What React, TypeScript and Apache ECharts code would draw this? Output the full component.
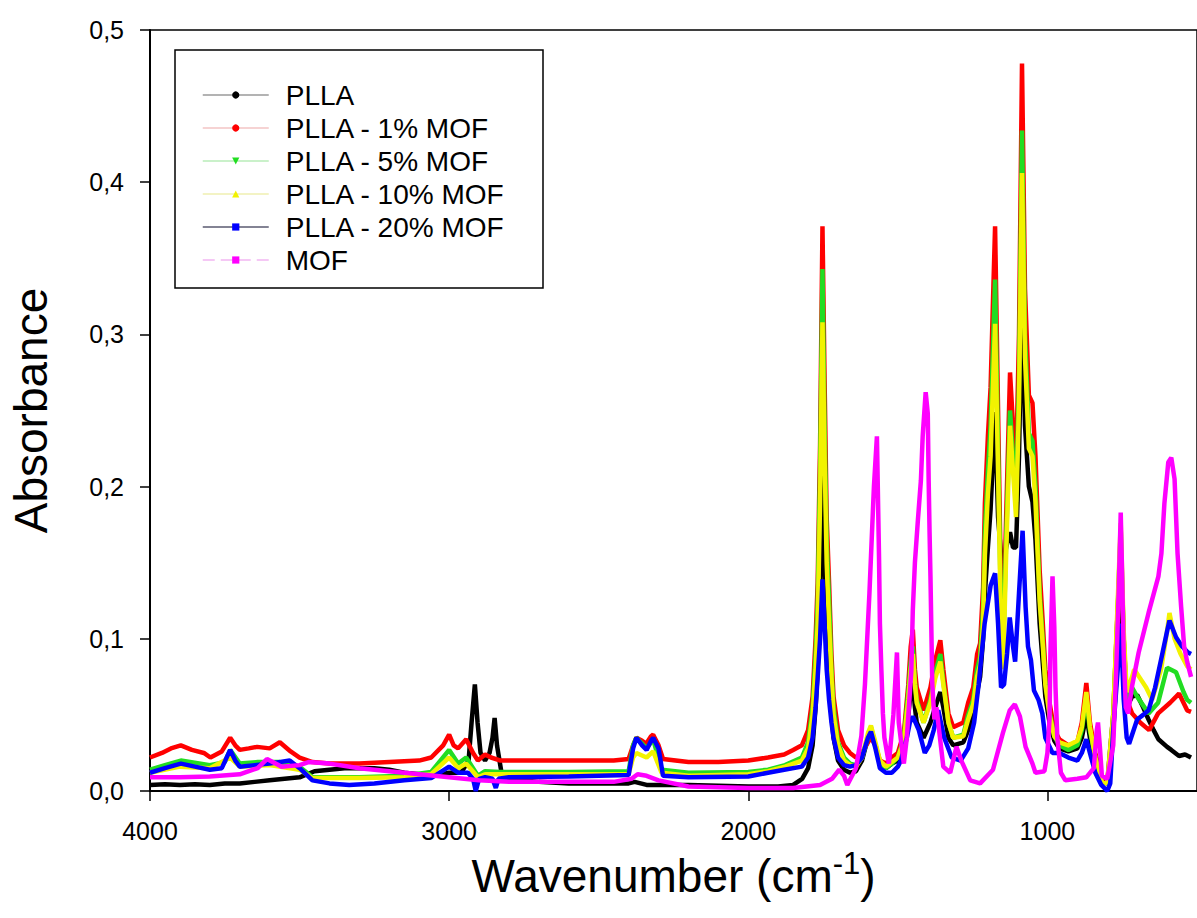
import React, { useEffect, useRef } from "react";
import * as echarts from "echarts";

const FONT = "'Liberation Sans', Arial, sans-serif";

const seriesNames = ["PLLA", "PLLA - 1% MOF", "PLLA - 5% MOF", "PLLA - 10% MOF", "PLLA - 20% MOF", "MOF"];
const seriesColors = ["#000000", "#ff0000", "#22dd22", "#f2f200", "#0000ff", "#ff00ff"];
const legendLineColors = ["#9a9a9a", "#f3c4c4", "#b8ecb8", "#efefb0", "#5a5a70", "#f2b6f2"];
const seriesSymbols = ["circle", "circle", "triangle", "triangle", "rect", "rect"];
const seriesSymbolRotate = [0, 0, 180, 0, 0, 0];
const xTickValues = [4000, 3000, 2000, 1000];

const pllaData: [number, number][] = [
  [4000, 0.004], [3950, 0.0045], [3900, 0.004], [3850, 0.0045], [3800, 0.004], [3750, 0.005], [3700, 0.005],
  [3650, 0.006], [3600, 0.007], [3550, 0.008], [3500, 0.009], [3450, 0.013], [3400, 0.014], [3350, 0.015],
  [3300, 0.015], [3250, 0.015], [3200, 0.014], [3150, 0.012], [3100, 0.011], [3050, 0.01], [3000, 0.012],
  [2960, 0.012], [2935, 0.02], [2925, 0.045], [2914, 0.07], [2905, 0.045], [2895, 0.025], [2880, 0.02],
  [2865, 0.025], [2855, 0.035], [2848, 0.048], [2840, 0.03], [2825, 0.012], [2800, 0.008], [2700, 0.006],
  [2600, 0.005], [2500, 0.005], [2400, 0.005], [2380, 0.006], [2360, 0.005], [2340, 0.004], [2300, 0.004],
  [2200, 0.004], [2000, 0.003], [1900, 0.003], [1850, 0.004], [1820, 0.008], [1800, 0.015], [1785, 0.03],
  [1775, 0.055], [1768, 0.08], [1760, 0.13], [1752, 0.208], [1745, 0.15], [1738, 0.1], [1730, 0.075],
  [1722, 0.05], [1715, 0.035], [1700, 0.02], [1680, 0.014], [1660, 0.012], [1640, 0.013], [1620, 0.02],
  [1600, 0.035], [1590, 0.041], [1575, 0.03], [1560, 0.018], [1540, 0.015], [1520, 0.018], [1500, 0.02],
  [1480, 0.03], [1465, 0.05], [1457, 0.065], [1450, 0.071], [1443, 0.055], [1437, 0.045], [1414, 0.035],
  [1391, 0.045], [1375, 0.055], [1358, 0.065], [1348, 0.055], [1331, 0.035], [1315, 0.03], [1281, 0.032],
  [1265, 0.04], [1248, 0.05], [1235, 0.065], [1225, 0.075], [1215, 0.1], [1209, 0.13], [1199, 0.16],
  [1190, 0.185], [1175, 0.249], [1165, 0.18], [1155, 0.155], [1148, 0.15], [1138, 0.16], [1125, 0.17],
  [1115, 0.16], [1105, 0.16], [1095, 0.22], [1085, 0.329], [1075, 0.24], [1062, 0.2], [1050, 0.19],
  [1040, 0.165], [1026, 0.11], [1016, 0.085], [1007, 0.062], [993, 0.045], [977, 0.033], [960, 0.028],
  [930, 0.026], [900, 0.028], [885, 0.035], [870, 0.05], [858, 0.035], [840, 0.02], [818, 0.006],
  [800, 0.005], [780, 0.04], [765, 0.09], [755, 0.125], [745, 0.08], [735, 0.055], [717, 0.062],
  [700, 0.063], [680, 0.055], [662, 0.047], [645, 0.04], [629, 0.034], [600, 0.029], [586, 0.027],
  [560, 0.023], [540, 0.024], [520, 0.022],
];

const mof1Data: [number, number][] = [
  [4000, 0.022], [3960, 0.025], [3930, 0.028], [3897, 0.03], [3860, 0.027], [3820, 0.025], [3798, 0.022],
  [3760, 0.026], [3732, 0.035], [3715, 0.03], [3700, 0.027], [3670, 0.028], [3642, 0.029], [3600, 0.028],
  [3566, 0.032], [3530, 0.026], [3500, 0.022], [3457, 0.019], [3400, 0.018], [3300, 0.018], [3200, 0.019],
  [3100, 0.02], [3060, 0.022], [3020, 0.03], [3000, 0.037], [2985, 0.03], [2970, 0.028], [2943, 0.034],
  [2920, 0.025], [2904, 0.02], [2880, 0.024], [2860, 0.022], [2828, 0.02], [2700, 0.02], [2600, 0.02],
  [2450, 0.02], [2400, 0.021], [2385, 0.03], [2374, 0.035], [2355, 0.033], [2341, 0.031], [2325, 0.036],
  [2318, 0.037], [2300, 0.03], [2285, 0.021], [2200, 0.019], [2100, 0.019], [2000, 0.02], [1934, 0.022],
  [1880, 0.024], [1850, 0.027], [1821, 0.03], [1800, 0.04], [1785, 0.062], [1775, 0.1], [1768, 0.137],
  [1760, 0.227], [1752, 0.371], [1745, 0.27], [1738, 0.18], [1730, 0.137], [1722, 0.09], [1715, 0.062],
  [1700, 0.04], [1680, 0.03], [1660, 0.025], [1640, 0.022], [1620, 0.025], [1600, 0.032], [1590, 0.035],
  [1575, 0.03], [1560, 0.02], [1540, 0.018], [1520, 0.022], [1500, 0.025], [1480, 0.038], [1465, 0.07],
  [1457, 0.095], [1450, 0.106], [1443, 0.08], [1437, 0.068], [1414, 0.053], [1391, 0.068], [1375, 0.086],
  [1358, 0.099], [1348, 0.08], [1331, 0.051], [1315, 0.042], [1281, 0.045], [1265, 0.058], [1248, 0.068],
  [1235, 0.09], [1225, 0.097], [1215, 0.134], [1209, 0.189], [1199, 0.233], [1190, 0.265], [1175, 0.371],
  [1165, 0.25], [1155, 0.13], [1148, 0.1], [1138, 0.18], [1125, 0.275], [1115, 0.24], [1105, 0.21],
  [1095, 0.3], [1085, 0.478], [1075, 0.33], [1062, 0.26], [1050, 0.255], [1040, 0.22], [1026, 0.145],
  [1016, 0.112], [1007, 0.08], [993, 0.058], [977, 0.04], [960, 0.034], [930, 0.03], [900, 0.032],
  [885, 0.045], [870, 0.071], [858, 0.045], [840, 0.025], [818, 0.008], [800, 0.006], [780, 0.05],
  [765, 0.12], [755, 0.16], [745, 0.1], [735, 0.06], [717, 0.051], [690, 0.045], [660, 0.04],
  [630, 0.051], [590, 0.058], [560, 0.064], [533, 0.053], [520, 0.052],
];

const mof5Data: [number, number][] = [
  [4000, 0.014], [3950, 0.017], [3897, 0.02], [3800, 0.017], [3750, 0.019], [3732, 0.027], [3700, 0.018],
  [3640, 0.019], [3566, 0.019], [3500, 0.016], [3457, 0.009], [3300, 0.009], [3150, 0.01], [3060, 0.0125],
  [3000, 0.027], [2970, 0.018], [2943, 0.022], [2904, 0.01], [2880, 0.013], [2830, 0.0125], [2600, 0.0125],
  [2400, 0.013], [2385, 0.03], [2374, 0.035], [2340, 0.028], [2318, 0.034], [2290, 0.014], [2200, 0.012],
  [2000, 0.0125], [1934, 0.014], [1877, 0.017], [1821, 0.022], [1800, 0.032], [1785, 0.055], [1775, 0.09],
  [1768, 0.125], [1760, 0.21], [1752, 0.343], [1745, 0.24], [1738, 0.165], [1730, 0.125], [1722, 0.08],
  [1715, 0.055], [1700, 0.032], [1680, 0.022], [1660, 0.018], [1640, 0.017], [1620, 0.022], [1600, 0.035],
  [1590, 0.042], [1575, 0.03], [1560, 0.018], [1540, 0.015], [1520, 0.018], [1500, 0.022], [1480, 0.035],
  [1465, 0.065], [1457, 0.085], [1450, 0.095], [1443, 0.072], [1437, 0.06], [1414, 0.045], [1391, 0.06],
  [1375, 0.078], [1358, 0.09], [1348, 0.072], [1331, 0.045], [1315, 0.035], [1281, 0.037], [1265, 0.05],
  [1248, 0.06], [1235, 0.08], [1225, 0.088], [1215, 0.12], [1209, 0.17], [1199, 0.21], [1190, 0.24],
  [1175, 0.336], [1165, 0.225], [1155, 0.115], [1148, 0.09], [1138, 0.165], [1125, 0.25], [1115, 0.22],
  [1105, 0.19], [1095, 0.27], [1085, 0.434], [1075, 0.3], [1062, 0.235], [1050, 0.23], [1040, 0.2],
  [1026, 0.13], [1016, 0.1], [1007, 0.072], [993, 0.052], [977, 0.036], [960, 0.03], [930, 0.027],
  [900, 0.03], [885, 0.04], [870, 0.062], [858, 0.04], [840, 0.022], [818, 0.006], [800, 0.005],
  [780, 0.05], [765, 0.12], [755, 0.172], [745, 0.1], [735, 0.06], [717, 0.068], [700, 0.062],
  [662, 0.051], [630, 0.058], [600, 0.081], [570, 0.078], [545, 0.065], [533, 0.06], [520, 0.058],
];

const mof10Data: [number, number][] = [
  [4000, 0.012], [3900, 0.016], [3800, 0.015], [3732, 0.022], [3700, 0.016], [3600, 0.017], [3500, 0.014],
  [3457, 0.0085], [3300, 0.0085], [3150, 0.009], [3060, 0.011], [3000, 0.022], [2970, 0.015], [2943, 0.018],
  [2904, 0.009], [2880, 0.011], [2830, 0.011], [2600, 0.011], [2400, 0.011], [2385, 0.022], [2374, 0.025],
  [2340, 0.022], [2318, 0.026], [2290, 0.012], [2200, 0.01], [2000, 0.011], [1934, 0.013], [1877, 0.016],
  [1821, 0.02], [1800, 0.028], [1785, 0.05], [1775, 0.08], [1768, 0.11], [1760, 0.19], [1752, 0.308],
  [1745, 0.22], [1738, 0.15], [1730, 0.11], [1722, 0.075], [1715, 0.05], [1700, 0.03], [1680, 0.02],
  [1660, 0.017], [1640, 0.016], [1620, 0.022], [1600, 0.038], [1590, 0.043], [1575, 0.032], [1560, 0.02],
  [1540, 0.016], [1520, 0.019], [1500, 0.022], [1480, 0.033], [1465, 0.06], [1457, 0.08], [1450, 0.09],
  [1443, 0.07], [1437, 0.058], [1414, 0.045], [1391, 0.058], [1375, 0.074], [1358, 0.085], [1348, 0.07],
  [1331, 0.045], [1315, 0.035], [1281, 0.036], [1265, 0.047], [1248, 0.057], [1235, 0.075], [1225, 0.083],
  [1215, 0.11], [1209, 0.155], [1199, 0.195], [1190, 0.22], [1175, 0.307], [1165, 0.21], [1155, 0.105],
  [1148, 0.08], [1138, 0.155], [1125, 0.24], [1115, 0.21], [1105, 0.18], [1095, 0.255], [1085, 0.406],
  [1075, 0.285], [1062, 0.225], [1050, 0.22], [1040, 0.19], [1026, 0.125], [1016, 0.097], [1007, 0.07],
  [993, 0.05], [977, 0.036], [960, 0.032], [930, 0.03], [900, 0.033], [885, 0.042], [870, 0.065],
  [858, 0.042], [840, 0.022], [818, 0.006], [800, 0.005], [780, 0.05], [765, 0.125], [755, 0.176],
  [745, 0.105], [735, 0.065], [717, 0.075], [710, 0.08], [690, 0.074], [670, 0.068], [650, 0.06],
  [620, 0.08], [600, 0.105], [592, 0.117], [575, 0.1], [555, 0.09], [533, 0.082], [520, 0.08],
];

const mof20Data: [number, number][] = [
  [4000, 0.012], [3950, 0.015], [3897, 0.018], [3850, 0.016], [3800, 0.014], [3760, 0.015], [3732, 0.027],
  [3715, 0.02], [3700, 0.016], [3650, 0.017], [3600, 0.018], [3533, 0.02], [3500, 0.015], [3457, 0.007],
  [3400, 0.005], [3334, 0.004], [3250, 0.005], [3150, 0.007], [3060, 0.0085], [3000, 0.016], [2970, 0.012],
  [2937, 0.012], [2920, 0.008], [2911, 0.0], [2900, 0.008], [2880, 0.009], [2855, 0.008], [2844, 0.002],
  [2835, 0.008], [2800, 0.009], [2600, 0.0095], [2400, 0.0105], [2385, 0.028], [2374, 0.035], [2355, 0.03],
  [2340, 0.027], [2325, 0.033], [2318, 0.035], [2300, 0.028], [2285, 0.01], [2200, 0.009], [2000, 0.0095],
  [1934, 0.012], [1880, 0.014], [1821, 0.016], [1800, 0.022], [1785, 0.035], [1775, 0.055], [1768, 0.075],
  [1760, 0.1], [1752, 0.139], [1745, 0.11], [1738, 0.08], [1730, 0.06], [1722, 0.045], [1715, 0.035],
  [1700, 0.022], [1680, 0.017], [1660, 0.016], [1640, 0.017], [1620, 0.022], [1600, 0.035], [1590, 0.039],
  [1575, 0.028], [1560, 0.015], [1540, 0.012], [1520, 0.012], [1500, 0.016], [1490, 0.02], [1470, 0.035],
  [1460, 0.045], [1450, 0.049], [1430, 0.04], [1410, 0.025], [1395, 0.03], [1380, 0.04], [1365, 0.053],
  [1345, 0.035], [1320, 0.022], [1290, 0.02], [1265, 0.028], [1245, 0.045], [1230, 0.07], [1210, 0.11],
  [1190, 0.135], [1175, 0.143], [1165, 0.11], [1155, 0.068], [1145, 0.07], [1135, 0.09], [1126, 0.114],
  [1115, 0.095], [1108, 0.085], [1095, 0.13], [1083, 0.171], [1073, 0.121], [1065, 0.095], [1055, 0.086],
  [1045, 0.066], [1030, 0.06], [1017, 0.051], [1007, 0.035], [983, 0.025], [960, 0.025], [930, 0.022],
  [900, 0.02], [885, 0.025], [870, 0.034], [858, 0.025], [840, 0.012], [820, 0.004], [800, 0.0],
  [790, 0.005], [780, 0.04], [765, 0.08], [755, 0.11], [745, 0.06], [735, 0.035], [727, 0.031],
  [700, 0.047], [680, 0.05], [662, 0.053], [640, 0.068], [615, 0.091], [600, 0.105], [592, 0.112],
  [570, 0.101], [550, 0.095], [530, 0.091], [520, 0.09],
];

const mofData: [number, number][] = [
  [4000, 0.009], [3900, 0.009], [3800, 0.0095], [3700, 0.011], [3640, 0.015], [3609, 0.021], [3560, 0.016],
  [3500, 0.017], [3470, 0.019], [3400, 0.018], [3300, 0.015], [3200, 0.013], [3100, 0.011], [3000, 0.009],
  [2900, 0.007], [2800, 0.006], [2640, 0.006], [2450, 0.006], [2390, 0.008], [2370, 0.011], [2340, 0.01],
  [2300, 0.007], [2200, 0.003], [2000, 0.002], [1850, 0.002], [1760, 0.004], [1720, 0.008], [1696, 0.014],
  [1680, 0.01], [1669, 0.004], [1640, 0.015], [1622, 0.036], [1610, 0.07], [1595, 0.13], [1580, 0.2],
  [1570, 0.233], [1563, 0.154], [1560, 0.11], [1555, 0.079], [1550, 0.051], [1545, 0.035], [1530, 0.018],
  [1515, 0.05], [1503, 0.091], [1497, 0.045], [1480, 0.018], [1470, 0.035], [1455, 0.079], [1450, 0.119],
  [1443, 0.15], [1433, 0.178], [1423, 0.204], [1417, 0.233], [1407, 0.262], [1400, 0.248], [1397, 0.204],
  [1394, 0.17], [1391, 0.141], [1388, 0.106], [1385, 0.071], [1378, 0.047], [1371, 0.055], [1348, 0.016],
  [1325, 0.012], [1304, 0.029], [1288, 0.02], [1258, 0.007], [1225, 0.005], [1182, 0.014], [1149, 0.038],
  [1126, 0.053], [1109, 0.057], [1092, 0.049], [1073, 0.029], [1050, 0.018], [1040, 0.012], [1010, 0.013],
  [1000, 0.025], [993, 0.047], [990, 0.091], [983, 0.141], [977, 0.108], [973, 0.068], [967, 0.035],
  [955, 0.012], [940, 0.007], [900, 0.008], [870, 0.009], [845, 0.015], [835, 0.04], [831, 0.045],
  [825, 0.03], [818, 0.01], [800, 0.008], [780, 0.03], [770, 0.08], [762, 0.13], [755, 0.183],
  [750, 0.14], [745, 0.09], [738, 0.055], [730, 0.051], [718, 0.068], [695, 0.091], [662, 0.117],
  [629, 0.141], [619, 0.156], [609, 0.189], [596, 0.216], [586, 0.219], [575, 0.205], [565, 0.156],
  [553, 0.121], [543, 0.095], [533, 0.085], [520, 0.075],
];

const allData = [pllaData, mof1Data, mof5Data, mof10Data, mof20Data, mofData];

export default function App() {
  const ref = useRef<HTMLDivElement>(null);

  useEffect(() => {
    if (!ref.current) return;
    const chart = echarts.init(ref.current, undefined, { renderer: "svg" });
    const option: any = {
      animation: false,
      backgroundColor: "#ffffff",
      textStyle: { fontFamily: FONT },
      grid: {
        left: 149,
        top: 30,
        width: 1057,
        height: 761,
        show: true,
        borderColor: "#000",
        borderWidth: 1.5,
        backgroundColor: "transparent",
      },
      legend: {
        orient: "vertical",
        left: 197,
        top: 75,
        z: 6,
        selectedMode: false,
        itemWidth: 66,
        itemHeight: 9,
        itemGap: 3,
        textStyle: { fontSize: 28, color: "#000", fontFamily: FONT, lineHeight: 30, padding: [0, 0, 0, 12] },
        data: seriesNames.map((n, i) => ({
          name: n,
          lineStyle: { color: legendLineColors[i], width: 1.5, type: i === 5 ? [12, 6] : "solid" },
          itemStyle: { color: seriesColors[i] },
        })),
      },
      graphic: [
        {
          type: "rect",
          z: 5,
          shape: { x: 175, y: 50, width: 368, height: 238 },
          style: { fill: "#fff", stroke: "#000", lineWidth: 1.5 },
        },
      ],
      xAxis: {
        type: "value",
        inverse: true,
        min: 500,
        max: 4000,
        name: "Wavenumber (cm{sup|-1})",
        nameLocation: "middle",
        nameGap: 55,
        nameTextStyle: {
          fontSize: 46,
          color: "#000",
          fontFamily: FONT,
          verticalAlign: "top",
          rich: { sup: { fontSize: 31, color: "#000", fontFamily: FONT, padding: [0, 0, 25, 0] } },
        },
        splitLine: { show: false },
        axisLine: { lineStyle: { color: "#000", width: 2 } },
        axisTick: { length: 10, lineStyle: { color: "#000", width: 1.5 }, customValues: xTickValues },
        axisLabel: {
          fontSize: 25,
          color: "#000",
          margin: 27,
          fontFamily: FONT,
          customValues: xTickValues,
          formatter: (v: number) => String(v),
        },
      },
      yAxis: {
        type: "value",
        min: 0,
        max: 0.5,
        interval: 0.1,
        name: "Absorbance",
        nameLocation: "middle",
        nameGap: 96,
        nameTextStyle: { fontSize: 46, color: "#000", fontFamily: FONT },
        splitLine: { show: false },
        axisLine: { lineStyle: { color: "#000", width: 2 } },
        axisTick: { length: 10, lineStyle: { color: "#000", width: 1.5 } },
        axisLabel: {
          fontSize: 25,
          color: "#000",
          margin: 26,
          fontFamily: FONT,
          formatter: (v: number) => v.toFixed(1).replace(".", ","),
        },
      },
      series: seriesNames.map((n, i) => ({
        name: n,
        type: "line",
        data: allData[i],
        symbol: seriesSymbols[i],
        symbolRotate: seriesSymbolRotate[i],
        showSymbol: false,
        silent: true,
        z: 2 + i,
        lineStyle: { color: seriesColors[i], width: 4.5 },
        itemStyle: { color: seriesColors[i] },
      })),
    };
    chart.setOption(option);
    return () => chart.dispose();
  }, []);

  return (
    <div
      ref={ref}
      style={{ position: "absolute", left: 0, top: 0, width: 1197, height: 918, background: "#fff" }}
    />
  );
}
